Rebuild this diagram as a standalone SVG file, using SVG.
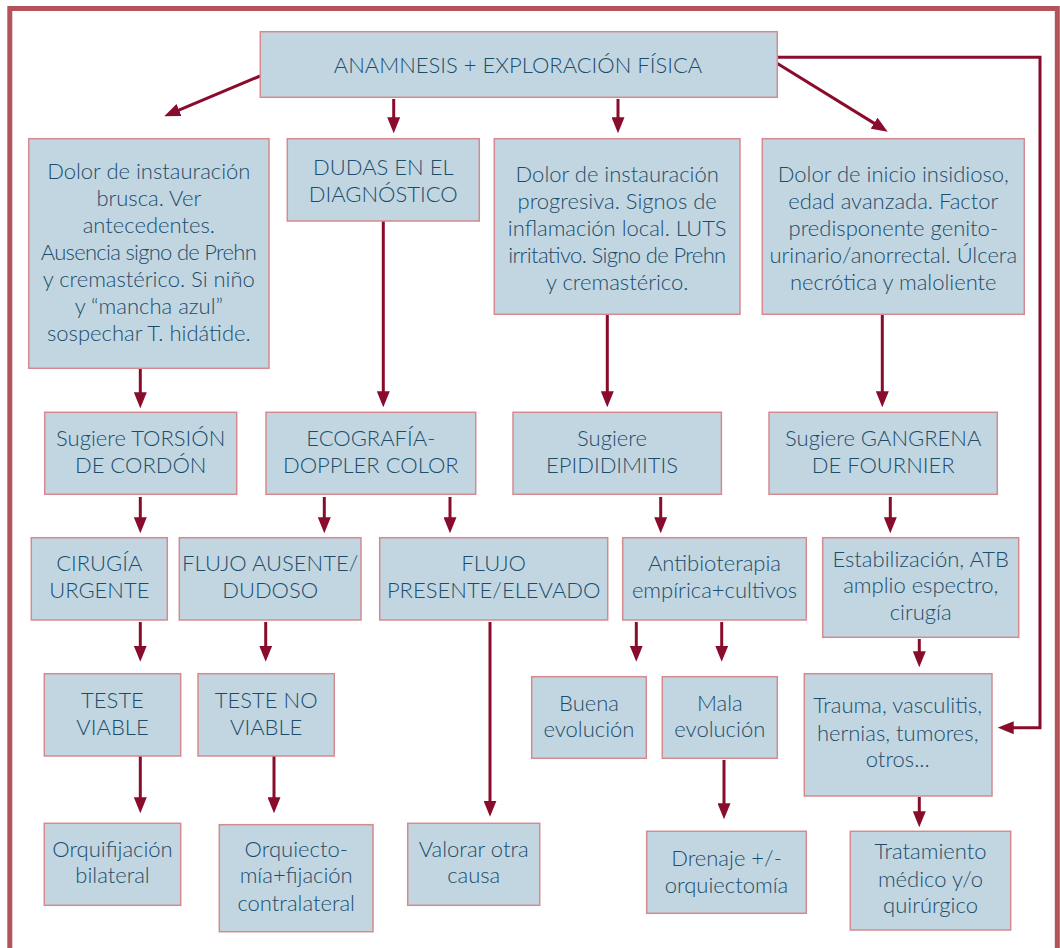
<svg xmlns="http://www.w3.org/2000/svg" width="1060" height="948" viewBox="0 0 1060 948">
<style>
.box{fill:#c2d6e2;stroke:#d58a8f;stroke-width:1.5}
.t{font-family:Lato,"Open Sans","Liberation Sans",sans-serif;font-size:22px;font-weight:300;fill:#1b4d6b;text-anchor:middle}
.c{fill:none;stroke:#8a0c2c;stroke-width:3}
</style>
<defs>
<marker id="ah" viewBox="0 0 16 13" refX="6" refY="6.5" markerWidth="16" markerHeight="13" markerUnits="userSpaceOnUse" orient="auto">
<path d="M0,0 L16,6.5 L0,13 z" fill="#8a0c2c"/>
</marker>
</defs>
<rect x="9.8" y="8.5" width="1047.5" height="1000" fill="#fff" stroke="#b5535a" stroke-width="5"/>

<g id="connectors">
<line class="c" x1="260" y1="76" x2="173.5" y2="112.4" marker-end="url(#ah)"/>
<line class="c" x1="777" y1="63.3" x2="879.2" y2="126.4" marker-end="url(#ah)"/>
<path class="c" d="M777,57.3 H1040 V727.7 H1007.7" marker-end="url(#ah)"/>
<line class="c" x1="393.7" y1="99" x2="393.7" y2="123.3" marker-end="url(#ah)"/>
<line class="c" x1="618" y1="99" x2="618" y2="123.3" marker-end="url(#ah)"/>
<line class="c" x1="140.3" y1="369" x2="140.3" y2="398.3" marker-end="url(#ah)"/>
<line class="c" x1="383.3" y1="221" x2="383.3" y2="397.3" marker-end="url(#ah)"/>
<line class="c" x1="607.3" y1="315" x2="607.3" y2="397.3" marker-end="url(#ah)"/>
<line class="c" x1="882.3" y1="315" x2="882.3" y2="397.3" marker-end="url(#ah)"/>
<line class="c" x1="140.3" y1="497" x2="140.3" y2="523.3" marker-end="url(#ah)"/>
<line class="c" x1="324.3" y1="497" x2="324.3" y2="523.3" marker-end="url(#ah)"/>
<line class="c" x1="450" y1="497" x2="450" y2="523.3" marker-end="url(#ah)"/>
<line class="c" x1="660.7" y1="497" x2="660.7" y2="523.3" marker-end="url(#ah)"/>
<line class="c" x1="890.3" y1="497" x2="890.3" y2="523.3" marker-end="url(#ah)"/>
<line class="c" x1="140.3" y1="622" x2="140.3" y2="651.7" marker-end="url(#ah)"/>
<line class="c" x1="265.7" y1="622" x2="265.7" y2="651.7" marker-end="url(#ah)"/>
<line class="c" x1="490" y1="622" x2="490" y2="806.7" marker-end="url(#ah)"/>
<line class="c" x1="636.3" y1="622" x2="636.3" y2="651.7" marker-end="url(#ah)"/>
<line class="c" x1="721.7" y1="622" x2="721.7" y2="651.7" marker-end="url(#ah)"/>
<line class="c" x1="919.3" y1="639" x2="919.3" y2="657.3" marker-end="url(#ah)"/>
<line class="c" x1="140.3" y1="756" x2="140.3" y2="803.3" marker-end="url(#ah)"/>
<line class="c" x1="274" y1="756" x2="274" y2="803.3" marker-end="url(#ah)"/>
<line class="c" x1="724" y1="760" x2="724" y2="809.3" marker-end="url(#ah)"/>
<line class="c" x1="919.3" y1="797" x2="919.3" y2="817.3" marker-end="url(#ah)"/>
</g>

<g id="n-anamnesis">
<rect class="box" x="260.3" y="31.7" width="517" height="65.6"/>
<text class="t" x="518" y="72.7">ANAMNESIS + EXPLORACIÓN FÍSICA</text>
</g>

<g id="n-brusca">
<rect class="box" x="28.7" y="138.7" width="240.3" height="229.6"/>
<text class="t" x="148.8" y="178.5">Dolor de instauración</text>
<text class="t" x="148.8" y="205.5">brusca. Ver</text>
<text class="t" x="148.8" y="232.5">antecedentes.</text>
<text class="t" x="148.8" y="259.5" textLength="216">Ausencia signo de Prehn</text>
<text class="t" x="148.8" y="286.5">y cremastérico. Si niño</text>
<text class="t" x="148.8" y="313.5">y “mancha azul”</text>
<text class="t" x="148.8" y="340.5">sospechar T. hidátide.</text>
</g>

<g id="n-dudas">
<rect class="box" x="287.3" y="138.7" width="192" height="82.3"/>
<text class="t" x="383.3" y="175">DUDAS EN EL</text>
<text class="t" x="383.3" y="201.7">DIAGNÓSTICO</text>
</g>

<g id="n-progresiva">
<rect class="box" x="494.3" y="138.7" width="245.7" height="175.6"/>
<text class="t" x="617.2" y="181.7">Dolor de instauración</text>
<text class="t" x="617.2" y="208.7">progresiva. Signos de</text>
<text class="t" x="617.2" y="235.7">inflamación local. LUTS</text>
<text class="t" x="617.2" y="262.7" textLength="218">irritativo. Signo de Prehn</text>
<text class="t" x="617.2" y="289.7">y cremastérico.</text>
</g>

<g id="n-insidioso">
<rect class="box" x="762.3" y="138.7" width="262" height="175.6"/>
<text class="t" x="893.3" y="181.7">Dolor de inicio insidioso,</text>
<text class="t" x="893.3" y="208.7">edad avanzada. Factor</text>
<text class="t" x="893.3" y="235.7">predisponente genito-</text>
<text class="t" x="893.3" y="262.7">urinario/anorrectal. Úlcera</text>
<text class="t" x="893.3" y="289.7">necrótica y maloliente</text>
</g>

<g id="n-torsion">
<rect class="box" x="44.7" y="412.3" width="192" height="82"/>
<text class="t" x="140.7" y="446">Sugiere TORSIÓN</text>
<text class="t" x="140.7" y="472.7">DE CORDÓN</text>
</g>

<g id="n-eco">
<rect class="box" x="266" y="412.3" width="209.7" height="82"/>
<text class="t" x="370.8" y="446">ECOGRAFÍA-</text>
<text class="t" x="370.8" y="472.7">DOPPLER COLOR</text>
</g>

<g id="n-epididimitis">
<rect class="box" x="513" y="412.3" width="208.4" height="82"/>
<text class="t" x="612" y="446">Sugiere</text>
<text class="t" x="612" y="472.7">EPIDIDIMITIS</text>
</g>

<g id="n-gangrena">
<rect class="box" x="769" y="412.3" width="228.3" height="82"/>
<text class="t" x="883.2" y="446">Sugiere GANGRENA</text>
<text class="t" x="883.2" y="472.7">DE FOURNIER</text>
</g>

<g id="n-cirugia">
<rect class="box" x="31.3" y="537.7" width="136" height="82.3"/>
<text class="t" x="99.3" y="571">CIRUGÍA</text>
<text class="t" x="99.3" y="597.7">URGENTE</text>
</g>

<g id="n-flujo-ausente">
<rect class="box" x="179.3" y="537.7" width="181.7" height="82.3"/>
<text class="t" x="270.2" y="571">FLUJO AUSENTE/</text>
<text class="t" x="270.2" y="597.7">DUDOSO</text>
</g>

<g id="n-flujo-presente">
<rect class="box" x="379.7" y="537.7" width="228" height="82.3"/>
<text class="t" x="493.7" y="571">FLUJO</text>
<text class="t" x="493.7" y="597.7">PRESENTE/ELEVADO</text>
</g>

<g id="n-antibio">
<rect class="box" x="622.7" y="537.7" width="183.6" height="82.3"/>
<text class="t" x="714.5" y="571">Antibioterapia</text>
<text class="t" x="714.5" y="597.7">empírica+cultivos</text>
</g>

<g id="n-estab">
<rect class="box" x="822.7" y="537.7" width="196" height="99.6"/>
<text class="t" x="920.7" y="566.7">Estabilización, ATB</text>
<text class="t" x="920.7" y="593.3">amplio espectro,</text>
<text class="t" x="920.7" y="620">cirugía</text>
</g>

<g id="n-teste-viable">
<rect class="box" x="44.3" y="673.7" width="136.4" height="82.3"/>
<text class="t" x="112.5" y="707.7">TESTE</text>
<text class="t" x="112.5" y="735">VIABLE</text>
</g>

<g id="n-teste-no-viable">
<rect class="box" x="198" y="673.7" width="136.3" height="82.3"/>
<text class="t" x="266.2" y="707.7">TESTE NO</text>
<text class="t" x="266.2" y="735">VIABLE</text>
</g>

<g id="n-buena">
<rect class="box" x="531.7" y="676.7" width="114.6" height="81.6"/>
<text class="t" x="589" y="710.7">Buena</text>
<text class="t" x="589" y="737.3">evolución</text>
</g>

<g id="n-mala">
<rect class="box" x="662.3" y="676.7" width="115" height="81.6"/>
<text class="t" x="719.8" y="710.7">Mala</text>
<text class="t" x="719.8" y="737.3">evolución</text>
</g>

<g id="n-trauma">
<rect class="box" x="804.3" y="673.7" width="187.7" height="122.3"/>
<text class="t" x="897.7" y="713.3">Trauma, vasculitis,</text>
<text class="t" x="897.7" y="740.7">hernias, tumores,</text>
<text class="t" x="897.7" y="767.3">otros...</text>
</g>

<g id="n-orquifijacion">
<rect class="box" x="44.3" y="823.3" width="136.4" height="82"/>
<text class="t" x="112.5" y="856.7">Orquifijación</text>
<text class="t" x="112.5" y="883.3">bilateral</text>
</g>

<g id="n-orquiectomia">
<rect class="box" x="219.3" y="824.7" width="153.7" height="107"/>
<text class="t" x="296.2" y="856.7">Orquiecto-</text>
<text class="t" x="296.2" y="883.3">mía+fijación</text>
<text class="t" x="296.2" y="910.7">contralateral</text>
</g>

<g id="n-valorar">
<rect class="box" x="407.7" y="823.3" width="132" height="82"/>
<text class="t" x="473.7" y="856.7">Valorar otra</text>
<text class="t" x="473.7" y="883.3">causa</text>
</g>

<g id="n-drenaje">
<rect class="box" x="646.7" y="831.3" width="159.6" height="82"/>
<text class="t" x="726.5" y="866">Drenaje +/-</text>
<text class="t" x="726.5" y="892.7">orquiectomía</text>
</g>

<g id="n-tratamiento">
<rect class="box" x="850.3" y="831.3" width="160.4" height="98.7"/>
<text class="t" x="930.5" y="859.3">Tratamiento</text>
<text class="t" x="930.5" y="886.7">médico y/o</text>
<text class="t" x="930.5" y="913.3">quirúrgico</text>
</g>
</svg>
